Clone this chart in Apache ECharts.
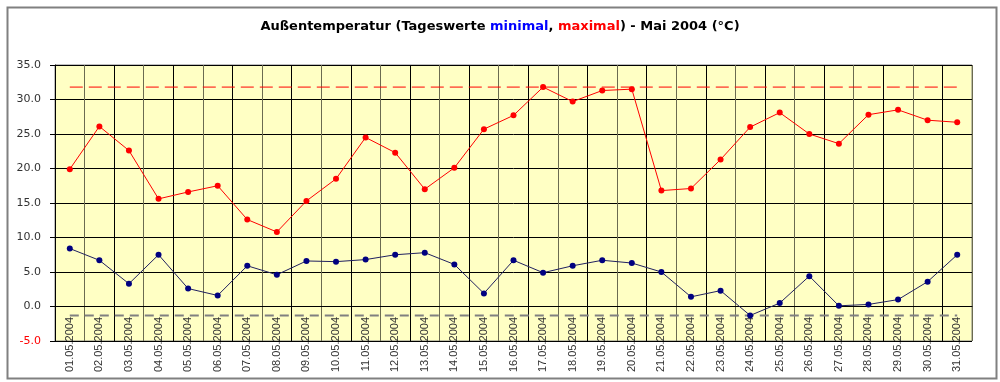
<!DOCTYPE html>
<html>
<head>
<meta charset="utf-8">
<script src="https://cdn.jsdelivr.net/npm/echarts@6/dist/echarts.min.js"></script>
<style>
html,body{margin:0;padding:0;background:#fff;}
#chart{width:1000px;height:382px;}
</style>
</head>
<body>
<div id="chart"></div>
<script>
const days = ['01.05.2004','02.05.2004','03.05.2004','04.05.2004','05.05.2004','06.05.2004','07.05.2004','08.05.2004','09.05.2004','10.05.2004','11.05.2004','12.05.2004','13.05.2004','14.05.2004','15.05.2004','16.05.2004','17.05.2004','18.05.2004','19.05.2004','20.05.2004','21.05.2004','22.05.2004','23.05.2004','24.05.2004','25.05.2004','26.05.2004','27.05.2004','28.05.2004','29.05.2004','30.05.2004','31.05.2004'];
const maxTemps = [19.9, 26.1, 22.6, 15.6, 16.6, 17.5, 12.6, 10.8, 15.3, 18.5, 24.5, 22.3, 17.0, 20.1, 25.7, 27.7, 31.8, 29.7, 31.3, 31.5, 16.8, 17.1, 21.3, 26.0, 28.1, 25.0, 23.6, 27.8, 28.5, 27.0, 26.7];
const minTemps = [8.4, 6.7, 3.3, 7.5, 2.6, 1.6, 5.9, 4.6, 6.6, 6.5, 6.8, 7.5, 7.8, 6.1, 1.9, 6.7, 4.9, 5.9, 6.7, 6.3, 5.0, 1.4, 2.3, -1.3, 0.5, 4.4, 0.1, 0.3, 1.0, 3.6, 7.5];
const yTicks = {min: -5, max: 35, step: 5};

const absMax = Math.max(...maxTemps);
const absMin = Math.min(...minTemps);
const first = days[0], last = days[days.length - 1];

const chart = echarts.init(document.getElementById('chart'));
chart.setOption({
  animation: false,
  backgroundColor: '#fff',
  textStyle: {fontFamily: 'Liberation Sans, Arial, sans-serif'},
  title: {
    left: 'center',
    top: 15,
    text: '{a|Außentemperatur (Tageswerte }{b|minimal}{a|, }{c|maximal}{a|) - Mai 2004 (°C)}',
    textStyle: {
      rich: {
        a: {fontSize: 13, fontWeight: 'bold', color: '#000', fontFamily: 'DejaVu Sans'},
        b: {fontSize: 13, fontWeight: 'bold', color: '#0000ff', fontFamily: 'DejaVu Sans'},
        c: {fontSize: 13, fontWeight: 'bold', color: '#ff0000', fontFamily: 'DejaVu Sans'}
      }
    }
  },
  graphic: [{
    type: 'rect', left: 5, top: 5, z: -1,
    shape: {width: 989, height: 371},
    style: {fill: 'none', stroke: '#808080', lineWidth: 2}
  }],
  grid: {
    left: 55, right: 28, top: 65, bottom: 41,
    show: true, backgroundColor: '#ffffc4', borderColor: '#808080', borderWidth: 1
  },
  xAxis: {
    type: 'category',
    data: days,
    boundaryGap: true,
    axisLine: {show: true, lineStyle: {color: '#000', width: 1}},
    axisTick: {show: false},
    axisLabel: {
      rotate: 90, margin: -24, interval: 0,
      fontSize: 11, color: '#333', fontFamily: 'Liberation Sans'
    },
    splitLine: {show: true, interval: 0, lineStyle: {color: ['#000', '#6b6b50'], width: 1}}
  },
  yAxis: {
    type: 'value',
    min: yTicks.min, max: yTicks.max, interval: yTicks.step,
    axisLine: {show: true, lineStyle: {color: '#000', width: 1}},
    axisTick: {show: true, length: 5, lineStyle: {color: '#000'}},
    axisLabel: {
      fontSize: 11, margin: 14, fontFamily: 'DejaVu Sans',
      formatter: v => v.toFixed(1),
      color: v => (Number(v) < 0 ? '#ff0000' : '#333')
    },
    splitLine: {show: true, lineStyle: {color: '#000', width: 1}}
  },
  series: [
    {
      name: 'maxRef', type: 'line', data: [[first, absMax], [last, absMax]],
      symbol: 'none', silent: true, z: 2,
      lineStyle: {color: '#ff0000', width: 1, type: [13, 6]}
    },
    {
      name: 'minRef', type: 'line', data: [[first, absMin], [last, absMin]],
      symbol: 'none', silent: true, z: 2,
      lineStyle: {color: '#808080', width: 2, type: [9, 6]}
    },
    {
      name: 'maximal', type: 'line', data: maxTemps,
      symbol: 'circle', symbolSize: 6,
      lineStyle: {color: '#ff0000', width: 1},
      itemStyle: {color: '#ff0000'},
      z: 3
    },
    {
      name: 'minimal', type: 'line', data: minTemps,
      symbol: 'circle', symbolSize: 6,
      lineStyle: {color: '#202060', width: 1},
      itemStyle: {color: '#000080'},
      z: 3
    }
  ]
});
</script>
</body>
</html>
